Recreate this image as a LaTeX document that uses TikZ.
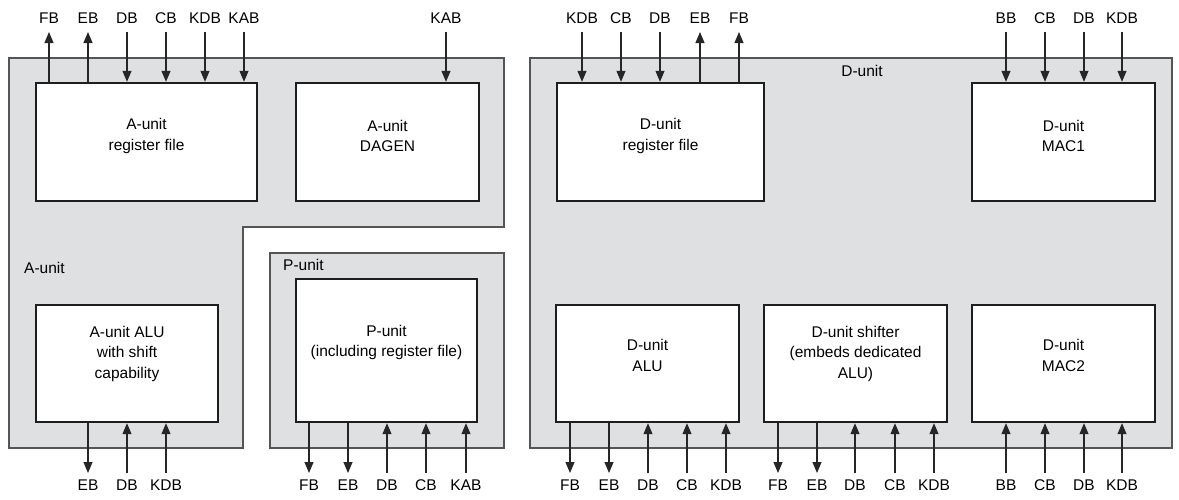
\documentclass[tikz,border=0pt]{standalone}
\usepackage{fontspec}
\setmainfont{Liberation Sans}
\usetikzlibrary{arrows.meta}
\definecolor{unitgray}{RGB}{223,224,226}
\definecolor{edgegray}{RGB}{85,85,85}
\definecolor{boxedge}{RGB}{30,30,30}
\begin{document}
\begin{tikzpicture}[x=1pt,y=-1pt,
  font=\fontsize{15.5}{20.5}\selectfont,
  unit/.style={fill=unitgray, draw=edgegray, line width=1.2pt},
  blk/.style={draw=boxedge, fill=white, line width=2.4pt, inner sep=0pt},
  bus/.style={inner sep=0pt, text depth=0pt},
  tbus/.style={bus, anchor=south, outer ysep=9pt},
  bbus/.style={bus, anchor=north, outer ysep=7pt},
  arr/.style={line width=1.1pt, draw=black!85, -{Triangle[length=11pt,width=9pt]}},
  boxtext/.style={align=center, inner sep=0pt}
]
\useasboundingbox (0,0) rectangle (1179,499);

% unit regions
\draw[unit] (9,58) -- (504,58) -- (504,227) -- (243,227) -- (243,448) -- (9,448) -- cycle;
\draw[unit] (270,253) rectangle (504,448);
\draw[unit] (530,58) rectangle (1172,448);

\node[anchor=west, inner sep=0pt] (alab) at (24,268) {A-unit};
\node[anchor=west, inner sep=0pt] (plab) at (283,265) {P-unit};
\node[inner sep=0pt] (dlab) at (862,71) {D-unit};

% blocks
\node[blk, minimum width=221pt, minimum height=118pt,
  label={[boxtext, yshift=6pt]center:{A-unit\\register file}}] (arf) at (146.5,142) {};
\node[blk, minimum width=183pt, minimum height=118pt,
  label={[boxtext, yshift=6pt]center:{A-unit\\DAGEN}}] (dagen) at (387.5,142) {};
\node[blk, minimum width=182pt, minimum height=117pt,
  label={[boxtext, yshift=10pt]center:{A-unit ALU\\with shift\\capability}}] (aalu) at (127,363.5) {};
\node[blk, minimum width=181pt, minimum height=143pt,
  label={[boxtext, yshift=8pt]center:{P-unit\\(including register file)}}] (pbox) at (386.5,350.5) {};
\node[blk, minimum width=207pt, minimum height=118pt,
  label={[boxtext, yshift=6pt]center:{D-unit\\register file}}] (drf) at (660.5,142) {};
\node[blk, minimum width=183pt, minimum height=118pt,
  label={[boxtext, yshift=6pt]center:{D-unit\\MAC1}}] (mac1) at (1063.5,142) {};
\node[blk, minimum width=183pt, minimum height=117pt,
  label={[boxtext, yshift=8pt]center:{D-unit\\ALU}}] (dalu) at (647.5,363.5) {};
\node[blk, minimum width=183pt, minimum height=117pt,
  label={[boxtext, yshift=10pt]center:{D-unit shifter\\(embeds dedicated\\ALU)}}] (dshf) at (855.5,363.5) {};
\node[blk, minimum width=183pt, minimum height=117pt,
  label={[boxtext, yshift=8pt]center:{D-unit\\MAC2}}] (mac2) at (1063.5,363.5) {};

% top buses: outputs (up arrows)
\foreach \x/\t/\n/\b in {49/FB/ta1/arf, 88/EB/ta2/arf, 700/EB/td4/drf, 739/FB/td5/drf} {
  \node[tbus] (\n) at (\x,32) {\t};
  \draw[arr] (\b.north -| \n) -- (\n.south);
}
% top buses: inputs (down arrows)
\foreach \x/\t/\n/\b in {127/DB/ta3/arf, 166/CB/ta4/arf, 205/KDB/ta5/arf, 244/KAB/ta6/arf,
  446/KAB/tg1/dagen, 582/KDB/td1/drf, 621/CB/td2/drf, 660/DB/td3/drf,
  1006/BB/tm1/mac1, 1045/CB/tm2/mac1, 1084/DB/tm3/mac1, 1122/KDB/tm4/mac1} {
  \node[tbus] (\n) at (\x,32) {\t};
  \draw[arr] (\n.south) -- (\n.south |- \b.north);
}
% bottom buses: outputs (down arrows)
\foreach \x/\t/\n/\b in {88/EB/ba1/aalu, 309/FB/bp1/pbox, 348/EB/bp2/pbox,
  570/FB/bd1/dalu, 609/EB/bd2/dalu, 778/FB/bs1/dshf, 817/EB/bs2/dshf} {
  \node[bbus] (\n) at (\x,473) {\t};
  \draw[arr] (\b.south -| \n) -- (\n.north);
}
% bottom buses: inputs (up arrows)
\foreach \x/\t/\n/\b in {127/DB/ba2/aalu, 166/KDB/ba3/aalu,
  387/DB/bp3/pbox, 426/CB/bp4/pbox, 466/KAB/bp5/pbox,
  648/DB/bd3/dalu, 687/CB/bd4/dalu, 726/KDB/bd5/dalu,
  855/DB/bs3/dshf, 895/CB/bs4/dshf, 934/KDB/bs5/dshf,
  1006/BB/bm1/mac2, 1045/CB/bm2/mac2, 1084/DB/bm3/mac2, 1122/KDB/bm4/mac2} {
  \node[bbus] (\n) at (\x,473) {\t};
  \draw[arr] (\n.north) -- (\n.north |- \b.south);
}
\end{tikzpicture}
\end{document}
